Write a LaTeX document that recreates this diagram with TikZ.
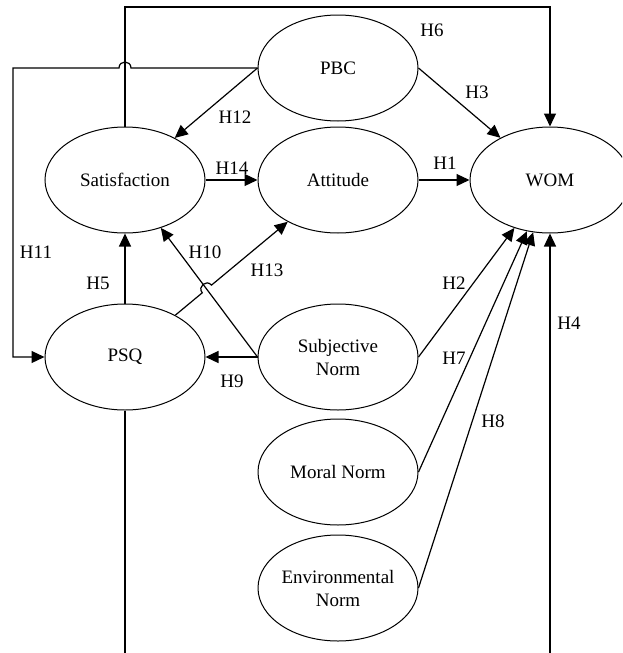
\documentclass[tikz,border=0pt]{standalone}
\usepackage{fontspec}
\setmainfont{Liberation Serif}
\usetikzlibrary{shapes.geometric,arrows.meta,calc}
\begin{document}
\begin{tikzpicture}[x=1pt,y=-1pt,
  lat/.style={ellipse,draw,line width=1pt,minimum width=160pt,minimum height=106pt,inner sep=0pt,align=center,font=\fontsize{19}{23}\selectfont},
  lbl/.style={font=\fontsize{19}{23}\selectfont,inner sep=0pt},
  conn/.style={line width=1.2pt,-{Triangle[length=13pt,width=12pt]}},
  plain/.style={line width=1.2pt}]
\useasboundingbox (0,0) rectangle (622,653);
\clip (0,0) rectangle (622,653);
% nodes
\node[lat] (pbc) at (338,68) {PBC};
\node[lat] (sat) at (125,180) {Satisfaction};
\node[lat] (att) at (338,180) {Attitude};
\node[lat] (wom) at (550,180) {WOM};
\node[lat] (psq) at (125,357) {PSQ};
\node[lat] (sn) at (338,357) {Subjective\\Norm};
\node[lat] (mn) at (338,472) {Moral Norm};
\node[lat] (en) at (338,588) {Environmental\\Norm};
% helper coordinates
\coordinate (topy) at (0,7);
\coordinate (lefx) at (13,0);
\coordinate (boty) at (0,660);
\coordinate (x11) at (pbc.west -| sat.north);
\coordinate (h13a) at ($(psq)!0.3627!(att)$);
\coordinate (h13b) at ($(psq)!0.4061!(att)$);
% connectors
\draw[conn] (sat.north) |- (wom.north |- topy) -- (wom.north);
\draw[conn] (pbc.west) -- ([xshift=6pt]x11) .. controls +(0,-8) and +(0,-8) .. ([xshift=-6pt]x11) -- (pbc.west -| lefx) |- (psq.west);
\draw[conn] (pbc.west) -- (sat);
\draw[conn] (pbc.east) -- (wom);
\draw[conn] (sat) -- (att);
\draw[conn] (att) -- (wom);
\draw[conn] (psq) -- (sat);
\draw[conn] (sn.west) -- (sat);
\draw[conn] (sn) -- (psq);
\draw[conn] (psq) -- (h13a) .. controls ($(h13a)!8pt!90:(att)$) and ($(h13b)!8pt!-90:(psq)$) .. (h13b) -- (att);
\draw[conn] (sn.east) -- (wom);
\draw[conn] (mn.east) -- (wom);
\draw[conn] (en.east) -- (wom);
\draw[conn] (wom.south |- boty) -- (wom.south);
\draw[plain] (psq.south) -- (psq.south |- boty);
% labels
\node[lbl] (l6) at (432,30) {H6};
\node[lbl] (l12) at (235,117) {H12};
\node[lbl] (l3) at (477,92) {H3};
\node[lbl] (l14) at (232,168) {H14};
\node[lbl] (l1) at (445,163) {H1};
\node[lbl] (l11) at (36,252) {H11};
\node[lbl] (l5) at (98,283) {H5};
\node[lbl] (l10) at (205,252) {H10};
\node[lbl] (l13) at (267,270) {H13};
\node[lbl] (l9) at (232,381) {H9};
\node[lbl] (l2) at (454,283) {H2};
\node[lbl] (l7) at (454,358) {H7};
\node[lbl] (l4) at (569,323) {H4};
\node[lbl] (l8) at (493,421) {H8};
\end{tikzpicture}
\end{document}
